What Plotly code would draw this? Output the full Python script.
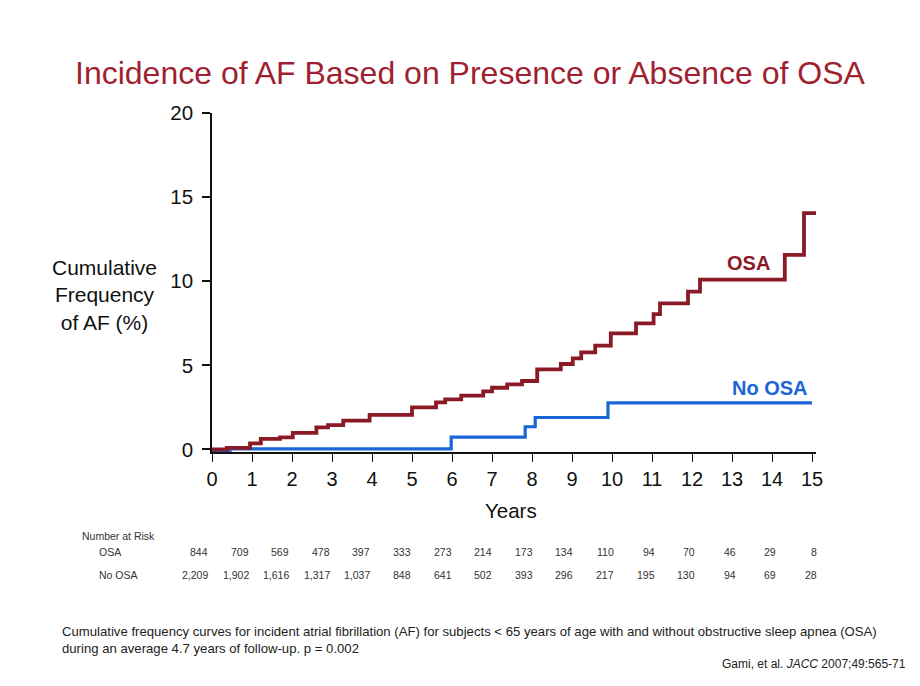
import plotly.graph_objects as go

# ---- data ----
osa_years = [0, 0.37, 0.95, 1.22, 1.7, 2.02, 2.61, 2.9, 3.28, 3.94, 5.0, 5.6, 5.83, 6.23,
             6.78, 7.0, 7.38, 7.75, 8.13, 8.72, 9.02, 9.23, 9.58, 9.97, 10.6, 11.04,
             11.2, 11.9, 12.2, 14.32, 14.8, 15.1]
osa_freq = [0, 0.1, 0.36, 0.63, 0.72, 0.99, 1.31, 1.45, 1.72, 2.06, 2.5, 2.8, 2.98, 3.2,
            3.45, 3.67, 3.87, 4.07, 4.76, 5.08, 5.42, 5.77, 6.17, 6.9, 7.5, 8.04,
            8.69, 9.38, 10.1, 11.57, 14.05, 14.05]

noosa_years = [0, 0.45, 5.98, 7.83, 8.08, 9.9, 15.0]
noosa_freq = [-0.1, 0.04, 0.73, 1.35, 1.9, 2.77, 2.77]

risk_years = list(range(16))
risk_osa = ["844", "709", "569", "478", "397", "333", "273", "214", "173", "134",
            "110", "94", "70", "46", "29", "8"]
risk_noosa = ["2,209", "1,902", "1,616", "1,317", "1,037", "848", "641", "502", "393",
              "296", "217", "195", "130", "94", "69", "28"]

x_ticks = list(range(16))
y_ticks = [0, 5, 10, 15, 20]

FONT = "Liberation Sans, Arial, sans-serif"
RED = "#8a1a25"
TITLE_RED = "#a01f30"
BLUE = "#1a66d8"

fig = go.Figure()
fig.add_trace(go.Scatter(x=noosa_years, y=noosa_freq, mode="lines",
                         line=dict(shape="hv", color=BLUE, width=3.2),
                         showlegend=False, hoverinfo="skip"))
fig.add_trace(go.Scatter(x=osa_years, y=osa_freq, mode="lines",
                         line=dict(shape="hv", color=RED, width=3.8),
                         showlegend=False, hoverinfo="skip"))

OFF = 8  # page body offset
W, H = 920, 686
X0, X1, Y0, Y1 = 212 - OFF, 816 - OFF, 113 - OFF, 452 - OFF
L, R, T, B = X0, W - X1, Y0, H - Y1
pw, ph = X1 - X0, Y1 - Y0


def px(xp):
    return (xp - OFF - X0) / pw


def py(yp):
    return (Y1 - (yp - OFF)) / ph


ann = []
# Title
ann.append(dict(text="Incidence of AF Based on Presence or Absence of OSA",
                x=px(470), y=py(73), xref="paper", yref="paper", showarrow=False,
                xanchor="center", yanchor="middle",
                font=dict(family=FONT, size=32, color=TITLE_RED)))
# Y-axis title
ann.append(dict(text="Cumulative<br>Frequency<br>of AF (%)",
                x=px(104), y=py(295), xref="paper", yref="paper", showarrow=False,
                xanchor="center", yanchor="middle", align="center",
                font=dict(family=FONT, size=21, color="#111111")))
# X-axis title
ann.append(dict(text="Years", x=px(511), y=py(510), xref="paper", yref="paper",
                showarrow=False, xanchor="center", yanchor="middle",
                font=dict(family=FONT, size=20.5, color="#111111")))
# Curve labels
ann.append(dict(text="<b>OSA</b>", x=13.4, y=11.09, xref="x", yref="y", showarrow=False,
                xanchor="center", yanchor="middle",
                font=dict(family=FONT, size=20, color=RED)))
ann.append(dict(text="<b>No OSA</b>", x=13.95, y=3.66, xref="x", yref="y", showarrow=False,
                xanchor="center", yanchor="middle",
                font=dict(family=FONT, size=20, color=BLUE)))
# Number at risk table
SMALL = dict(family=FONT, size=10.5, color="#333333")
ann.append(dict(text="Number at Risk", x=px(80), y=py(536), xref="paper", yref="paper",
                showarrow=False, xanchor="left", yanchor="middle", font=SMALL))
ann.append(dict(text="OSA", x=px(97), y=py(552), xref="paper", yref="paper",
                showarrow=False, xanchor="left", yanchor="middle", font=SMALL))
ann.append(dict(text="No OSA", x=px(97), y=py(575), xref="paper", yref="paper",
                showarrow=False, xanchor="left", yanchor="middle", font=SMALL))
for yr, a, b in zip(risk_years, risk_osa, risk_noosa):
    sh = round(0.6 * yr) - 2
    ann.append(dict(text=a, x=yr, y=py(552), xref="x", yref="paper", showarrow=False,
                    xanchor="right", yanchor="middle", xshift=sh, font=SMALL))
    ann.append(dict(text=b, x=yr, y=py(575), xref="x", yref="paper", showarrow=False,
                    xanchor="right", yanchor="middle", xshift=sh, font=SMALL))
# Footnote
ann.append(dict(text="Cumulative frequency curves for incident atrial fibrillation (AF) for subjects &lt; 65 years of age with and without obstructive sleep apnea (OSA)<br>during an average 4.7 years of follow-up. p = 0.002",
                x=px(60), y=py(639.5), xref="paper", yref="paper", showarrow=False,
                xanchor="left", yanchor="middle", align="left",
                font=dict(family=FONT, size=13.15, color="#222222")))
ann.append(dict(text="Gami, et al. <i>JACC</i> 2007;49:565-71",
                x=px(908), y=py(664), xref="paper", yref="paper", showarrow=False,
                xanchor="right", yanchor="middle",
                font=dict(family=FONT, size=12, color="#222222")))

fig.update_layout(
    width=W, height=H,
    margin=dict(l=L, r=R, t=T, b=B, pad=0),
    paper_bgcolor="white", plot_bgcolor="white",
    annotations=ann,
    showlegend=False,
    xaxis=dict(range=[0, 15.1], tickvals=x_ticks, ticktext=[str(v) for v in x_ticks],
               showgrid=False, zeroline=False, showline=True, linecolor="#111111",
               linewidth=1.5, ticks="outside", ticklen=8, tickwidth=1.2,
               tickcolor="#111111", fixedrange=True,
               tickfont=dict(family=FONT, size=20, color="#111111")),
    yaxis=dict(range=[-0.15, 20], tickvals=y_ticks, ticktext=[str(v) for v in y_ticks],
               showgrid=False, zeroline=False, showline=True, linecolor="#111111",
               linewidth=1.5, ticks="outside", ticklen=8, tickwidth=2,
               tickcolor="#111111", fixedrange=True, ticklabelstandoff=5,
               tickfont=dict(family=FONT, size=20.5, color="#111111")),
)

fig.write_html("out.html")
